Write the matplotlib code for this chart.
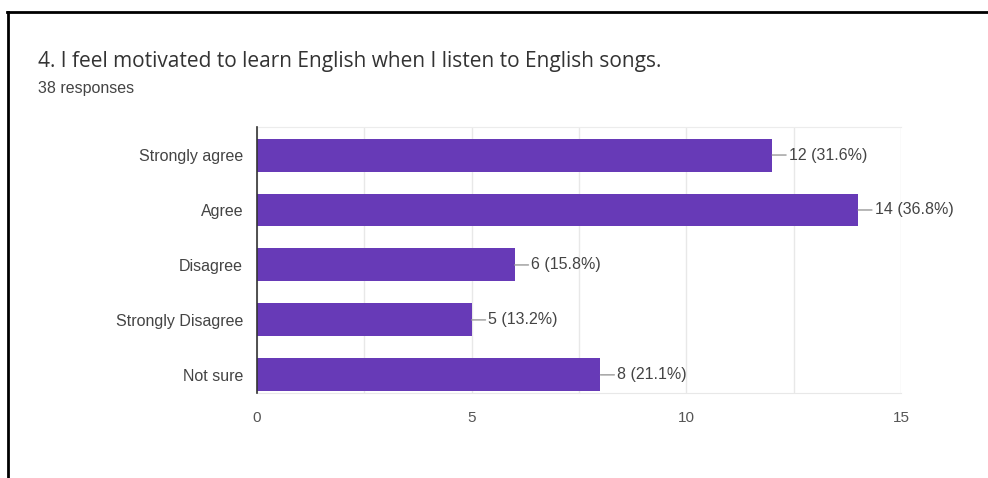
import matplotlib
matplotlib.use("Agg")
import matplotlib.pyplot as plt
from matplotlib.lines import Line2D

title = "4. I feel motivated to learn English when I listen to English songs."
subtitle = "38 responses"
categories = ["Strongly agree", "Agree", "Disagree", "Strongly Disagree", "Not sure"]
counts = [12, 14, 6, 5, 8]
percents = [31.6, 36.8, 15.8, 13.2, 21.1]
xticks = [0, 5, 10, 15]

W, H = 988, 478
fig = plt.figure(figsize=(W / 100, H / 100), dpi=100)
fig.patch.set_facecolor("white")

ax = fig.add_axes([257 / W, 1 - 393 / H, (901 - 257) / W, (393 - 127) / H])

y = list(range(len(categories)))
ax.barh(y, counts, height=0.6, color="#673AB7", zorder=3)
ax.set_ylim(len(categories) - 1 + 0.33, -0.51)
ax.set_xlim(0, 15)
ax.set_xticks(xticks)
ax.set_xticks([2.5, 7.5, 12.5], minor=True)
ax.set_yticks(y)
ax.set_yticklabels(categories, fontfamily="Liberation Sans", fontsize=11.5, color="#444444")
for lbl in ax.get_xticklabels():
    lbl.set_fontfamily("Liberation Sans")
ax.tick_params(axis="x", which="both", length=0, labelsize=11, labelcolor="#555555", pad=13)
ax.tick_params(axis="y", length=0, pad=10)
ax.grid(axis="x", which="both", color="#e8e8e8", linewidth=1, zorder=0)
ax.spines["right"].set_visible(False)
ax.spines["left"].set_color("#333333")
ax.spines["left"].set_linewidth(1.2)
ax.spines["left"].set_zorder(4)
ax.spines["bottom"].set_color("#e8e8e8")
ax.spines["top"].set_color("#ececec")

for i, (c, p) in enumerate(zip(counts, percents)):
    ax.annotate(f"{c} ({p}%)", xy=(c, i), xytext=(12, 0), textcoords="offset points",
                ha="left", va="center", fontsize=11.5, color="#444444",
                fontfamily="Liberation Sans",
                arrowprops=dict(arrowstyle="-", color="#999999", lw=1,
                                shrinkA=0, shrinkB=0))

fig.text(38 / W, 1 - 61 / H, title, fontsize=15, color="#333333",
         fontfamily="Open Sans", va="center", ha="left")
fig.text(38 / W, 1 - 89 / H, subtitle, fontsize=11.5, color="#444444",
         fontfamily="Liberation Sans", va="center", ha="left")

# frame lines
fig.add_artist(Line2D([7 / W, 1], [1 - 12 / H, 1 - 12 / H], color="black", lw=2,
                      transform=fig.transFigure))
fig.add_artist(Line2D([8 / W, 8 / W], [1 - 12 / H, 0], color="black", lw=2,
                      transform=fig.transFigure))

fig.savefig("out.png", dpi=100)
